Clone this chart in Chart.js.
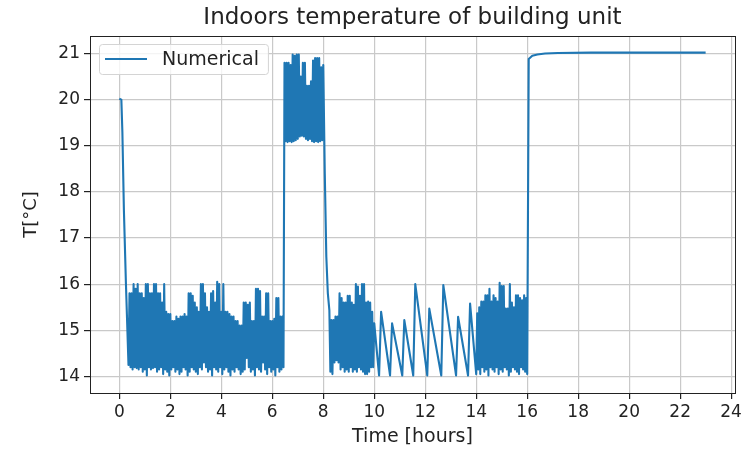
<!DOCTYPE html>
<html>
<head>
<meta charset="utf-8">
<title>Indoors temperature of building unit</title>
<script src="https://cdn.jsdelivr.net/npm/chart.js@4.4.1/dist/chart.umd.min.js"></script>
<style>
  html, body { margin: 0; padding: 0; background: #fff; }
</style>
</head>
<body>
<canvas id="temp-chart" width="745" height="449"></canvas>
<script>
// sampling interval of the on/off (thermostat) parts, hours
const step = 0.04;

// start of the day: set point 20 then free cooling
const startTimes = [0, 0.08, 0.12, 0.18, 0.26];
const startTemps = [20.02, 20.0, 19.3, 17.6, 16.0];

// night band 0.36 h .. 6.44 h, starts with a trough
const aTroughs = [
  14.25, 14.2, 14.15, 14.2, 14.18, 14.15, 14.2, 14.1, 14.15, 14.02,
  14.2, 14.15, 14.18, 14.2, 14.1, 14.15, 14.2, 14.05, 14.15, 14.1,
  14.02, 14.15, 14.2, 14.1, 14.15, 14.05, 14.1, 14.2, 14.15, 14.02,
  14.1, 14.2, 14.15, 14.1, 14.05, 14.2, 14.15, 14.3, 14.2, 14.1,
  14.15, 14.02, 14.2, 14.15, 14.1, 14.2, 14.05, 14.15, 14.2, 14.1,
  14.02, 14.15, 14.1, 14.2, 14.15, 14.05, 14.1, 14.15, 14.4, 14.2,
  14.1, 14.15, 14.02, 14.2, 14.15, 14.1, 14.3, 14.15, 14.05, 14.2,
  14.1, 14.15, 14.02, 14.2, 14.1, 14.15, 14.2
];
const aPeaks = [
  15.8, 15.8, 16.0, 15.9, 16.0, 15.8, 15.8, 15.7, 16.0, 16.0,
  15.8, 15.8, 16.0, 16.0, 15.8, 15.8, 15.6, 16.0, 15.4, 15.35,
  15.35, 15.2, 15.2, 15.3, 15.25, 15.3, 15.3, 15.35, 15.3, 15.8,
  15.8, 15.75, 15.6, 15.5, 15.4, 16.0, 16.0, 15.8, 15.5, 15.4,
  15.8, 15.85, 15.6, 16.05, 16.0, 15.4, 16.0, 15.4, 15.4, 15.35,
  15.3, 15.3, 15.2, 15.2, 15.1, 15.1, 15.6, 15.6, 15.55, 15.6,
  15.2, 15.2, 15.9, 15.9, 15.85, 15.3, 15.3, 15.8, 15.8, 15.2,
  15.2, 15.25, 15.7, 15.7, 15.3, 15.3
];

// morning comfort band 6.48 h .. 8.00 h, starts with a peak
const bPeaks = [
  20.8, 20.8, 20.8, 20.75, 20.98, 20.95, 20.98, 20.98, 20.5, 20.8,
  20.8, 20.3, 20.3, 20.4, 20.85, 20.9, 20.9, 20.9, 20.7, 20.75
];
const bTroughs = [
  19.1, 19.08, 19.1, 19.08, 19.1, 19.12, 19.15, 19.2, 19.22, 19.2,
  19.15, 19.12, 19.15, 19.1, 19.08, 19.1, 19.08, 19.1, 19.12
];

const fallTimes = [8.06, 8.12, 8.18, 8.24];
const fallTemps = [18.4, 16.6, 15.8, 15.43];

// 8.28 h .. 10.00 h, starts with a trough
const cTroughs = [
  14.1, 14.05, 14.3, 14.35, 14.3, 14.15, 14.2, 14.1, 14.15, 14.1, 14.2,
  14.1, 14.15, 14.1, 14.2, 14.15, 14.1, 14.05, 14.05, 14.1, 14.2, 14.2
];
const cPeaks = [
  15.22, 15.22, 15.3, 15.3, 15.8, 15.7, 15.6, 15.6, 15.75, 15.75, 15.6,
  15.55, 16.0, 15.95, 15.75, 16.0, 16.0, 15.6, 15.62, 15.6, 15.4, 15.15
];

// midday, slow cycles
const sawTimes = [10.19, 10.27, 10.62, 10.70, 11.10, 11.18, 11.53, 11.61, 12.08,
  12.16, 12.63, 12.71, 13.21, 13.29, 13.68, 13.76, 14.0];
const sawTemps = [14.02, 15.40, 14.02, 15.15, 14.02, 15.22, 14.02, 16.0, 14.02,
  15.47, 14.02, 15.98, 14.02, 15.29, 14.02, 15.58, 14.05];

// 14.04 h .. 16.00 h, starts with a peak
const dPeaks = [
  15.37, 15.5, 15.62, 15.62, 15.76, 15.76, 15.9, 15.62, 15.76, 15.7,
  15.62, 16.03, 15.96, 15.96, 15.47, 15.47, 16.0, 15.6, 15.5, 15.76,
  15.76, 15.7, 15.65, 15.76, 15.7
];
const dTroughs = [
  14.15, 14.05, 14.2, 14.1, 14.15, 14.02, 14.2, 14.15, 14.1, 14.2,
  14.05, 14.15, 14.1, 14.2, 14.15, 14.02, 14.1, 14.2, 14.15, 14.1,
  14.05, 14.2, 14.15, 14.1, 14.05
];

// evening: heating to 21 and holding
const endTimes = [16.06, 16.2, 16.4, 16.7, 17.2, 18.5, 23.0];
const endTemps = [20.88, 20.95, 20.98, 21.0, 21.01, 21.02, 21.02];

const xTicks = [0, 2, 4, 6, 8, 10, 12, 14, 16, 18, 20, 22, 24];
const yTicks = [14, 15, 16, 17, 18, 19, 20, 21];

// build the {x, y} list
const points = [];
function addPairs(ts, vs) {
  ts.forEach((t, i) => points.push({ x: t, y: vs[i] }));
}
function addBand(t0, first, second) {
  const n = first.length + second.length;
  for (let i = 0; i < n; i++) {
    const v = i % 2 === 0 ? first[i >> 1] : second[i >> 1];
    points.push({ x: +(t0 + i * step).toFixed(2), y: v });
  }
}
addPairs(startTimes, startTemps);
addBand(0.36, aTroughs, aPeaks);
addBand(6.48, bPeaks, bTroughs);
addPairs(fallTimes, fallTemps);
addBand(8.28, cTroughs, cPeaks);
addPairs(sawTimes, sawTemps);
addBand(14.04, dPeaks, dTroughs);
addPairs(endTimes, endTemps);

Chart.defaults.font.family = "'DejaVu Sans', sans-serif";
Chart.defaults.color = "#222";

const gridColor = "#c9c9c9";

// axes box on all four sides + matplotlib style legend in the upper left
const boxAndLegend = {
  id: "boxAndLegend",
  afterDatasetsDraw(chart) {
    const { ctx, chartArea: a } = chart;
    ctx.save();
    ctx.strokeStyle = "#222";
    ctx.lineWidth = 1;
    ctx.strokeRect(Math.round(a.left) + 0.5, Math.round(a.top) + 0.5,
      Math.round(a.right - a.left), Math.round(a.bottom - a.top));

    const ds = chart.data.datasets[0];
    ctx.font = "19px 'DejaVu Sans'";
    const tw = ctx.measureText(ds.label).width;
    const x = a.left + 9, y = a.top + 8, h = 30, w = 63 + tw + 9;
    ctx.beginPath();
    ctx.roundRect(x + 0.5, y + 0.5, w, h, 3);
    ctx.fillStyle = "rgba(255,255,255,0.8)";
    ctx.fill();
    ctx.strokeStyle = "#d4d4d4";
    ctx.stroke();

    ctx.beginPath();
    ctx.moveTo(x + 6, y + h / 2);
    ctx.lineTo(x + 48, y + h / 2);
    ctx.strokeStyle = ds.borderColor;
    ctx.lineWidth = ds.borderWidth;
    ctx.stroke();

    ctx.fillStyle = "#222";
    ctx.textBaseline = "middle";
    ctx.fillText(ds.label, x + 63, y + h / 2 + 1);
    ctx.restore();
  }
};

new Chart(document.getElementById("temp-chart"), {
  type: "line",
  data: {
    datasets: [
      {
        label: "Numerical",
        data: points,
        borderColor: "#1f77b4",
        borderWidth: 2.1,
        borderJoinStyle: "round",
        borderCapStyle: "butt",
        pointRadius: 0,
        tension: 0,
        fill: false,
      },
    ],
  },
  options: {
    responsive: false,
    animation: false,
    layout: { padding: { left: 0, right: 7, top: 0, bottom: 0 } },
    plugins: {
      legend: { display: false },
      tooltip: { enabled: false },
      title: {
        display: true,
        fullSize: false,
        text: "Indoors temperature of building unit",
        color: "#222",
        font: { size: 23, weight: "normal" },
        padding: { top: 4, bottom: 4.4 },
      },
    },
    scales: {
      x: {
        type: "linear",
        min: -1.15,
        max: 24.15,
        afterBuildTicks: (axis) => { axis.ticks = xTicks.map((v) => ({ value: v })); },
        afterFit: (axis) => { axis.height = 56; },
        grid: { color: gridColor, lineWidth: 1.2, tickColor: "#222", tickLength: 6 },
        border: { display: false },
        ticks: { font: { size: 17 }, padding: 3, maxRotation: 0, autoSkip: false },
        title: { display: true, text: "Time [hours]", font: { size: 19 }, padding: { top: 0, bottom: 0.5 } },
      },
      y: {
        min: 13.64,
        max: 21.38,
        afterBuildTicks: (axis) => { axis.ticks = yTicks.map((v) => ({ value: v })); },
        afterFit: (axis) => { axis.width = 90; },
        grid: { color: gridColor, lineWidth: 1.2, tickColor: "#222", tickLength: 6 },
        border: { display: false },
        ticks: { font: { size: 17 }, padding: 4, autoSkip: false },
        title: { display: true, text: "T[°C]", font: { size: 18 }, padding: { top: 21, bottom: 0 } },
      },
    },
  },
  plugins: [boxAndLegend],
});
</script>
</body>
</html>
